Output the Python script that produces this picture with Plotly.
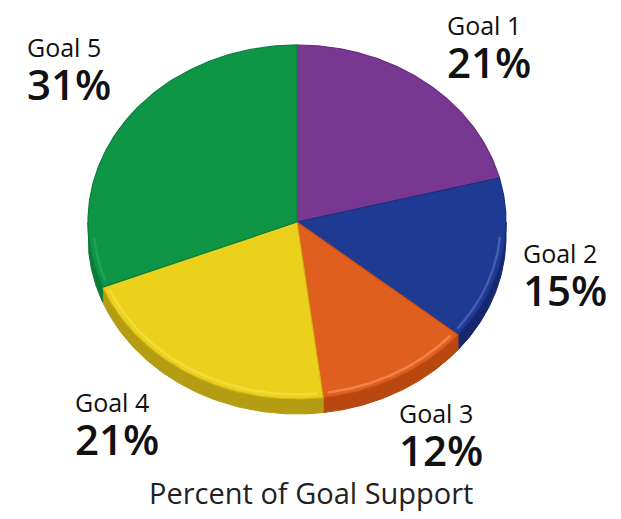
import numpy as np
import plotly.graph_objects as go

# Data: share of goal support per goal (percent)
goals = ["Goal 1", "Goal 2", "Goal 3", "Goal 4", "Goal 5"]
shares = [21, 15, 12, 21, 31]
pct_labels = ["21%", "15%", "12%", "21%", "31%"]

# Styling
top_colors = ["#783892", "#1f3a93", "#e05f1f", "#ecd11c", "#0e9546"]
side_colors = ["#5a2670", "#15276d", "#b8480f", "#b49d12", "#0b7a38"]
rim_colors = ["#8c4fa6", "#5a6ac0", "#f39460", "#f7e04a", "#2aa85c"]
edge_colors = ["#662c80", "#17307e", "#c44f14", "#d0b414", "#0b7f3b"]

W, H = 621, 519
CX, CY = 297, 222      # pie centre (pixels)
RX, RY = 209, 177      # ellipse radii of the tilted top face
DEPTH = 15             # thickness of the disc

# label placement: (x_left, baseline of the "Goal n" line)
label_pos = [
    (445, 35),
    (521, 263),
    (397, 423),
    (73, 412),
    (25, 57),
]


def rim_xy(theta_deg, scale=1.0, drop=0.0):
    t = np.radians(theta_deg)
    return CX + scale * RX * np.sin(t), CY - scale * RY * np.cos(t) + drop


cum = np.concatenate([[0], np.cumsum(shares)]) / sum(shares) * 360.0

fig = go.Figure()

# visible side walls (front half of the disc)
for i in range(len(shares)):
    a0, a1 = cum[i], cum[i + 1]
    s0, s1 = max(a0, 90.0), min(a1, 270.0)
    if s1 <= s0:
        continue
    t = np.linspace(s0, s1, 80)
    xt, yt = rim_xy(t)
    xb, yb = rim_xy(t[::-1], drop=DEPTH)
    fig.add_trace(go.Scatter(
        x=np.concatenate([xt, xb, xt[:1]]),
        y=np.concatenate([yt, yb, yt[:1]]),
        mode="lines", fill="toself", fillcolor=side_colors[i],
        line=dict(color=side_colors[i], width=1),
        hoverinfo="skip", showlegend=False,
    ))

# top faces
for i in range(len(shares)):
    a0, a1 = cum[i], cum[i + 1]
    t = np.linspace(a0, a1, 120)
    xa, ya = rim_xy(t)
    fig.add_trace(go.Scatter(
        x=np.concatenate([[CX], xa, [CX]]),
        y=np.concatenate([[CY], ya, [CY]]),
        mode="lines", fill="toself", fillcolor=top_colors[i],
        line=dict(color=edge_colors[i], width=1.2),
        name=goals[i], hoverinfo="name", showlegend=False,
    ))

# bevel highlight along the front rim
for i in range(len(shares)):
    a0, a1 = cum[i], cum[i + 1]
    s0, s1 = max(a0 + 1.5, 95.0), min(a1 - 1.5, 265.0)
    if s1 <= s0:
        continue
    t = np.linspace(s0, s1, 80)
    xh, yh = rim_xy(t, scale=0.975)
    fig.add_trace(go.Scatter(
        x=xh, y=yh, mode="lines",
        line=dict(color=rim_colors[i], width=2.5),
        opacity=0.7, hoverinfo="skip", showlegend=False,
    ))

# two-line labels: goal name above, percentage below
annotations = []
for i, (lx, base) in enumerate(label_pos):
    annotations.append(dict(
        x=lx, y=base + 14, xref="x", yref="y",
        text=("<span style='font-size:25px'>" + goals[i] + "</span><br>"
              "<span style='font-size:42px;font-weight:600'>"
              + pct_labels[i] + "</span>"),
        showarrow=False, xanchor="left", yanchor="middle", align="left",
        font=dict(family="Open Sans", size=33, color="#111111"),
    ))

annotations.append(dict(
    x=311, y=492, xref="x", yref="y", text="Percent of Goal Support",
    showarrow=False, xanchor="center", yanchor="middle",
    font=dict(family="Open Sans", size=29, color="#222222"),
))

fig.update_layout(
    width=W, height=H,
    margin=dict(l=0, r=0, t=0, b=0),
    paper_bgcolor="white", plot_bgcolor="white",
    xaxis=dict(range=[0, W], visible=False, fixedrange=True),
    yaxis=dict(range=[H, 0], visible=False, fixedrange=True),
    annotations=annotations,
)

fig.write_html("out.html")
